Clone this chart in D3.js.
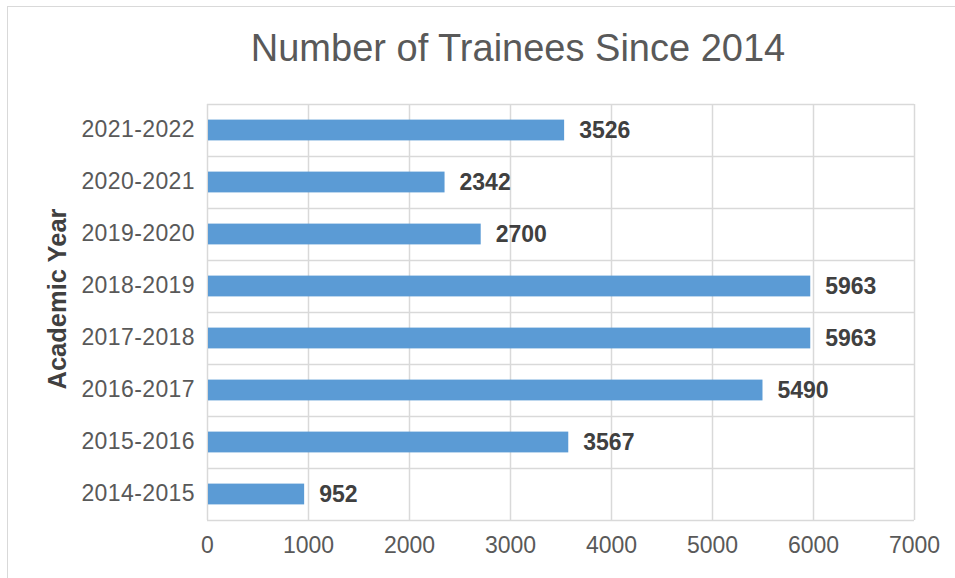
<!DOCTYPE html>
<html>
<head>
<meta charset="utf-8">
<script src="https://cdn.jsdelivr.net/npm/d3@7"></script>
<style>
  body { margin: 0; background: #fff; }
  svg text { font-family: "Liberation Sans", Arial, sans-serif; }
</style>
</head>
<body>
<div id="chart"></div>
<script>
// data
const years = ["2014-2015", "2015-2016", "2016-2017", "2017-2018", "2018-2019", "2019-2020", "2020-2021", "2021-2022"];
const trainees = [952, 3567, 5490, 5963, 5963, 2700, 2342, 3526];
const xTicks = [0, 1000, 2000, 3000, 4000, 5000, 6000, 7000];

const W = 955, H = 578;
const margin = {top: 104, right: 41, bottom: 58, left: 207};
const width = W - margin.left - margin.right,
      height = H - margin.top - margin.bottom;

const rows = years.map((y, i) => ({year: y, value: trainees[i]}));

let svg = d3.select("#chart").append("svg")
    .attr("width", W)
    .attr("height", H);

// outer chart frame
svg.append("rect")
    .attr("x", 7.5).attr("y", 6.5)
    .attr("width", 1000).attr("height", 1000)
    .attr("fill", "none")
    .attr("stroke", "#d9d9d9");

svg.append("text")
    .attr("x", 518).attr("y", 61)
    .attr("text-anchor", "middle")
    .attr("fill", "#595959")
    .style("font-size", "38px")
    .text("Number of Trainees Since 2014");

let g = svg.append("g")
    .attr("transform", "translate(" + margin.left + "," + margin.top + ")");

let x = d3.scaleLinear().domain([0, 7000]).range([0, width]);
let y = d3.scaleBand().domain(years.slice().reverse()).range([0, height]).padding(0);

// gridlines
g.selectAll(".vgrid")
    .data(xTicks)
    .enter().append("line")
    .attr("class", "vgrid")
    .attr("x1", d => Math.round(x(d)) + 0.5)
    .attr("x2", d => Math.round(x(d)) + 0.5)
    .attr("y1", 0).attr("y2", height)
    .attr("stroke", "#d9d9d9").attr("stroke-width", 1.5);

let bounds = years.map(d => y(d)).concat([height]);
g.selectAll(".hgrid")
    .data(bounds)
    .enter().append("line")
    .attr("class", "hgrid")
    .attr("x1", 0).attr("x2", width)
    .attr("y1", d => Math.round(d) + 0.5)
    .attr("y2", d => Math.round(d) + 0.5)
    .attr("stroke", "#d9d9d9").attr("stroke-width", 1.5);

// bars
let barH = y.bandwidth() * 0.4;
g.selectAll(".bar")
    .data(rows)
    .enter().append("rect")
    .attr("class", "bar")
    .attr("x", x(0) + 1)
    .attr("y", d => y(d.year) + (y.bandwidth() - barH) / 2)
    .attr("width", d => x(d.value) - x(0))
    .attr("height", barH)
    .attr("fill", "#5b9bd5");

g.selectAll(".val")
    .data(rows)
    .enter().append("text")
    .attr("class", "val")
    .attr("x", d => x(d.value) + 16)
    .attr("y", d => y(d.year) + y.bandwidth() / 2)
    .attr("dy", "0.36em")
    .attr("fill", "#404040")
    .style("font-size", "23px")
    .style("font-weight", "bold")
    .text(d => d.value);

// axes (labels only, no domain/ticks)
let xAxis = g.append("g")
    .attr("transform", "translate(0," + height + ")")
    .call(d3.axisBottom(x).tickValues(xTicks).tickSize(0).tickPadding(17).tickFormat(d3.format("d")));
xAxis.select(".domain").remove();
xAxis.selectAll("text")
    .attr("fill", "#595959")
    .style("font-size", "23px")
    .style("font-family", "'Liberation Sans', Arial, sans-serif");

let yAxis = g.append("g")
    .call(d3.axisLeft(y).tickSize(0).tickPadding(12));
yAxis.select(".domain").remove();
yAxis.selectAll("text")
    .attr("fill", "#595959")
    .style("font-size", "23px")
    .style("letter-spacing", "0.4px")
    .style("font-family", "'Liberation Sans', Arial, sans-serif");

svg.append("text")
    .attr("transform", "translate(66,299) rotate(-90)")
    .attr("text-anchor", "middle")
    .attr("fill", "#404040")
    .style("font-size", "25.5px")
    .style("font-weight", "bold")
    .text("Academic Year");
</script>
</body>
</html>
